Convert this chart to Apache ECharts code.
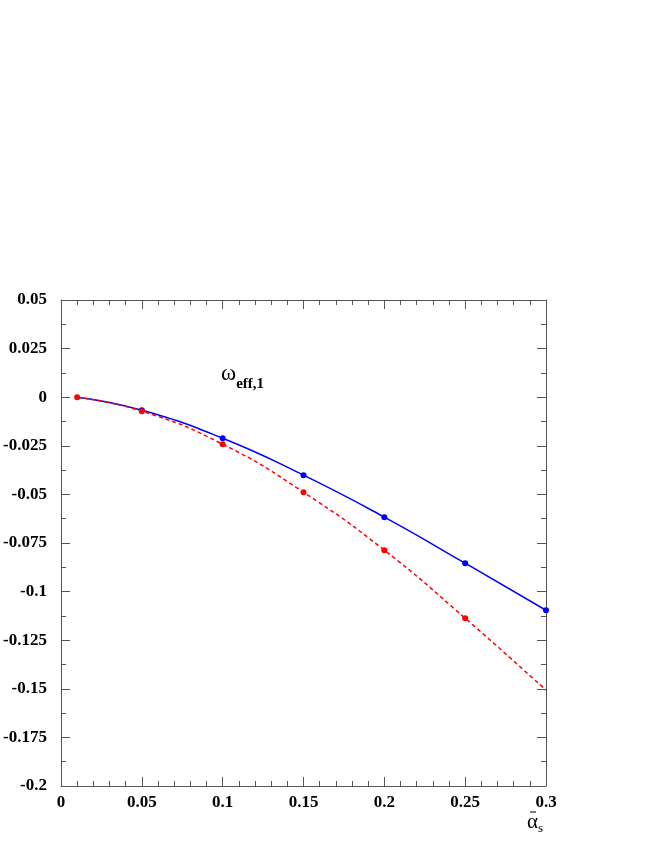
<!DOCTYPE html>
<html>
<head>
<meta charset="utf-8">
<script src="https://cdn.jsdelivr.net/npm/echarts@6/dist/echarts.min.js"></script>
<style>
  html, body { margin: 0; padding: 0; background: #fff; }
  #chart { width: 654px; height: 846px; }
</style>
</head>
<body>
<div id="chart"></div>
<script>
// 数据
const xValues = [0.01, 0.05, 0.1, 0.15, 0.2, 0.25, 0.3]
const blueValues = [0.0, -0.0067, -0.0211, -0.0401, -0.0617, -0.0854, -0.1096]
const redValues = [0.0, -0.0072, -0.0242, -0.0489, -0.0787, -0.1137, -0.1507]
// 红线最后一点没有圆点
const redMarked = [true, true, true, true, true, true, false]
const blueMarked = [false, true, true, true, true, true, true]

const font = '"Liberation Serif", "DejaVu Serif", serif'
const axisColor = '#555'

const chart = echarts.init(document.getElementById('chart'))

const toData = (vals, marks) => vals.map((v, i) => ({
  value: [xValues[i], v],
  symbol: marks[i] ? 'circle' : 'none'
}))

const baseX = {
  type: 'value',
  min: 0,
  max: 0.3,
  interval: 0.05,
  axisLine: { show: true, onZero: false, lineStyle: { color: axisColor, width: 1 } },
  axisTick: { show: true, inside: true, length: 9, lineStyle: { color: axisColor } },
  minorTick: { show: true, splitNumber: 5, length: 5, lineStyle: { color: axisColor } },
  splitLine: { show: false }
}
const baseY = {
  type: 'value',
  min: -0.2,
  max: 0.05,
  interval: 0.025,
  axisLine: { show: true, onZero: false, lineStyle: { color: axisColor, width: 1 } },
  axisTick: { show: true, inside: true, length: 9, lineStyle: { color: axisColor } },
  minorTick: { show: true, splitNumber: 2, length: 5, lineStyle: { color: axisColor } },
  splitLine: { show: false }
}

const option = {
  animation: false,
  backgroundColor: '#fff',
  grid: { left: 61, right: 108, top: 300, bottom: 60 },
  xAxis: [
    {
      ...baseX,
      position: 'bottom',
      axisLabel: { color: '#000', fontFamily: font, fontWeight: 'bold', fontSize: 17, margin: 8 }
    },
    { ...baseX, position: 'top', axisLabel: { show: false } }
  ],
  yAxis: [
    {
      ...baseY,
      position: 'left',
      axisLabel: { color: '#000', fontFamily: font, fontWeight: 'bold', fontSize: 17, margin: 14 }
    },
    { ...baseY, position: 'right', axisLabel: { show: false } }
  ],
  series: [
    {
      type: 'line',
      smooth: true,
      data: toData(blueValues, blueMarked),
      symbolSize: 6,
      lineStyle: { color: '#0000ff', width: 1.5 },
      itemStyle: { color: '#0000ff' },
      z: 2
    },
    {
      type: 'line',
      smooth: true,
      data: toData(redValues, redMarked),
      symbolSize: 6,
      lineStyle: { color: '#ff0000', width: 1.5, type: [4, 3] },
      itemStyle: { color: '#ff0000' },
      z: 3
    }
  ],
  graphic: [
    {
      type: 'text',
      left: 221,
      top: 362,
      style: {
        text: '{w|ω}{s|eff,1}',
        rich: {
          w: { fontFamily: font, fontSize: 23, fill: '#000', verticalAlign: 'top' },
          s: { fontFamily: font, fontSize: 15, fontWeight: 'bold', fill: '#000', padding: [15, 0, 0, 0] }
        }
      }
    },
    {
      type: 'text',
      left: 527,
      top: 812,
      style: {
        text: '{a|α}{s|s}',
        rich: {
          a: { fontFamily: font, fontSize: 21, fill: '#000' },
          s: { fontFamily: font, fontSize: 13, fill: '#000', padding: [12, 0, 0, 0] }
        }
      }
    },
    {
      type: 'line',
      shape: { x1: 530, y1: 812, x2: 536, y2: 812 },
      style: { stroke: '#000', lineWidth: 1 }
    }
  ]
}

chart.setOption(option)
</script>
</body>
</html>
